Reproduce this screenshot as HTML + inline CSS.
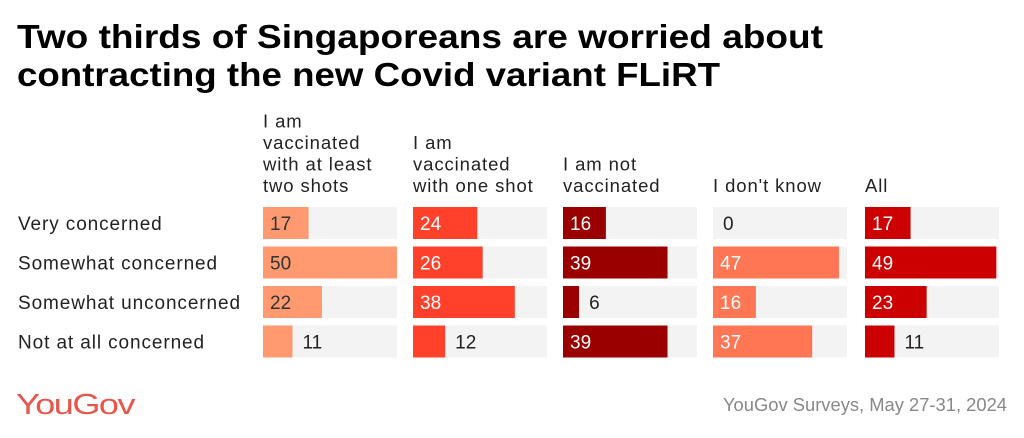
<!DOCTYPE html>
<html><head><meta charset="utf-8">
<style>
html,body{margin:0;padding:0;background:#fff;width:1024px;height:438px;overflow:hidden}
text{font-family:"Liberation Sans",sans-serif}
</style></head>
<body>
<svg width="1024" height="438" viewBox="0 0 1024 438">
<text x="17" y="48" font-size="33" font-weight="bold" fill="#000" textLength="806" lengthAdjust="spacingAndGlyphs">Two thirds of Singaporeans are worried about</text>
<text x="17" y="86" font-size="33" font-weight="bold" fill="#000" textLength="703" lengthAdjust="spacingAndGlyphs">contracting the new Covid variant FLiRT</text>
<g id="plot"></g>
<text x="16" y="414" font-size="29" fill="#e8564a" letter-spacing="-1.2" textLength="118" lengthAdjust="spacingAndGlyphs">YouGov</text>
<text x="1007" y="411" font-size="18" fill="#888" text-anchor="end" textLength="284" lengthAdjust="spacingAndGlyphs">YouGov Surveys, May 27-31, 2024</text>
</svg>
<script>
const categories = ["Very concerned","Somewhat concerned","Somewhat unconcerned","Not at all concerned"];
const groups = [["I am","vaccinated","with at least","two shots"],["I am","vaccinated","with one shot"],["I am not","vaccinated"],["I don't know"],["All"]];
const vaccTwo = [17,50,22,11];
const vaccOne = [24,26,38,12];
const notVacc = [16,39,6,39];
const dontKnow = [0,47,16,37];
const allResp = [17,49,23,11];
const series = [vaccTwo,vaccOne,notVacc,dontKnow,allResp];
const colors = ["#ff9a70","#ff412c","#9b0000","#ff7654","#cc0000"];
const textIn = ["#333","#fff","#fff","#fff","#fff"];
const maxVal = 50, colW = 134;
const colX = [263,413,563,713,865];
const rowY = r => 207 + r*39.5;
const xs = v => v / maxVal * colW;
const ns = "http://www.w3.org/2000/svg";
const plot = document.getElementById('plot');
function mk(tag, attrs){const e=document.createElementNS(ns,tag);for(const k in attrs)e.setAttribute(k,attrs[k]);plot.appendChild(e);return e;}
categories.forEach((c,r)=>{
  const t = mk('text',{x:18,y:rowY(r)+23,'font-size':19,'letter-spacing':'0.9',fill:'#222'});
  t.textContent = c;
  
  
});
groups.forEach((lines,g)=>{
  const n = lines.length;
  lines.forEach((ln,i)=>{
    const t = mk('text',{x:colX[g],y:192-(n-1-i)*21.5,'font-size':18.5,'letter-spacing':'0.9',fill:'#222'});
    t.textContent = ln;
    
    
  });
  series[g].forEach((v,r)=>{
    const bg = mk('rect',{x:colX[g],y:rowY(r),width:colW,height:32,fill:'#f3f3f3'});
    
    
    const w = xs(v);
    const b = mk('rect',{x:colX[g],y:rowY(r),width:w,height:32,fill:colors[g]});
    
    
    const inside = w > 36;
    const t = mk('text',{x: inside ? colX[g]+7 : colX[g]+w+10, y:rowY(r)+23,'font-size':19,fill: inside ? textIn[g] : '#222'});
    t.textContent = v;
    
    
  });
});
</script>
</body></html>
